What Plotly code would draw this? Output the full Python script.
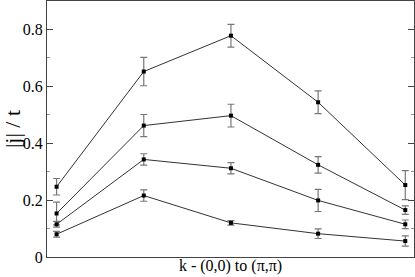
import plotly.graph_objects as go

k_index = [0, 1, 2, 3, 4]

s1 = [0.247, 0.652, 0.778, 0.544, 0.253]
e1 = [0.029, 0.050, 0.040, 0.040, 0.051]
s2 = [0.153, 0.462, 0.497, 0.324, 0.165]
e2 = [0.040, 0.039, 0.040, 0.029, 0.015]
s3 = [0.115, 0.343, 0.312, 0.199, 0.115]
e3 = [0.010, 0.020, 0.020, 0.039, 0.015]
s4 = [0.080, 0.216, 0.120, 0.082, 0.056]
e4 = [0.010, 0.020, 0.008, 0.017, 0.018]

fig = go.Figure()
for ys, es in [(s1, e1), (s2, e2), (s3, e3), (s4, e4)]:
    fig.add_trace(go.Scatter(
        x=k_index, y=ys, mode="lines+markers",
        line=dict(color="#333333", width=1),
        marker=dict(symbol="square", size=4, color="black"),
        error_y=dict(type="data", array=es, visible=True,
                     color="#777777", thickness=1.2, width=3.5),
        showlegend=False,
    ))

font = "Liberation Serif"
fig.update_layout(
    width=415, height=277,
    margin=dict(l=47, r=1, t=1, b=20),
    paper_bgcolor="white", plot_bgcolor="white",
    font=dict(family=font, color="black", size=16),
    xaxis=dict(range=[-0.11, 4.1], showticklabels=False, ticks="",
               showgrid=False, zeroline=False, showline=True,
               linecolor="#444444", linewidth=1, mirror=True,
               title=dict(text="k - (0,0) to (π,π)", standoff=2,
                          font=dict(family=font, size=16))),
    yaxis=dict(range=[0, 0.9], dtick=0.2, tick0=0, ticks="inside",
               ticklen=6, tickcolor="#444444", showgrid=False,
               zeroline=False, showline=True, linecolor="#444444",
               linewidth=1, mirror="ticks",
               tickfont=dict(family=font, size=16),
               minor=dict(ticks="inside", ticklen=3, dtick=0.1,
                          tickcolor="#999999", showgrid=False),
               title=dict(text="|j| / t", standoff=1,
                          font=dict(family=font, size=22))),
)

fig.write_html("out.html", config={"displayModeBar": False},
               post_script="document.body.style.margin='0';")
